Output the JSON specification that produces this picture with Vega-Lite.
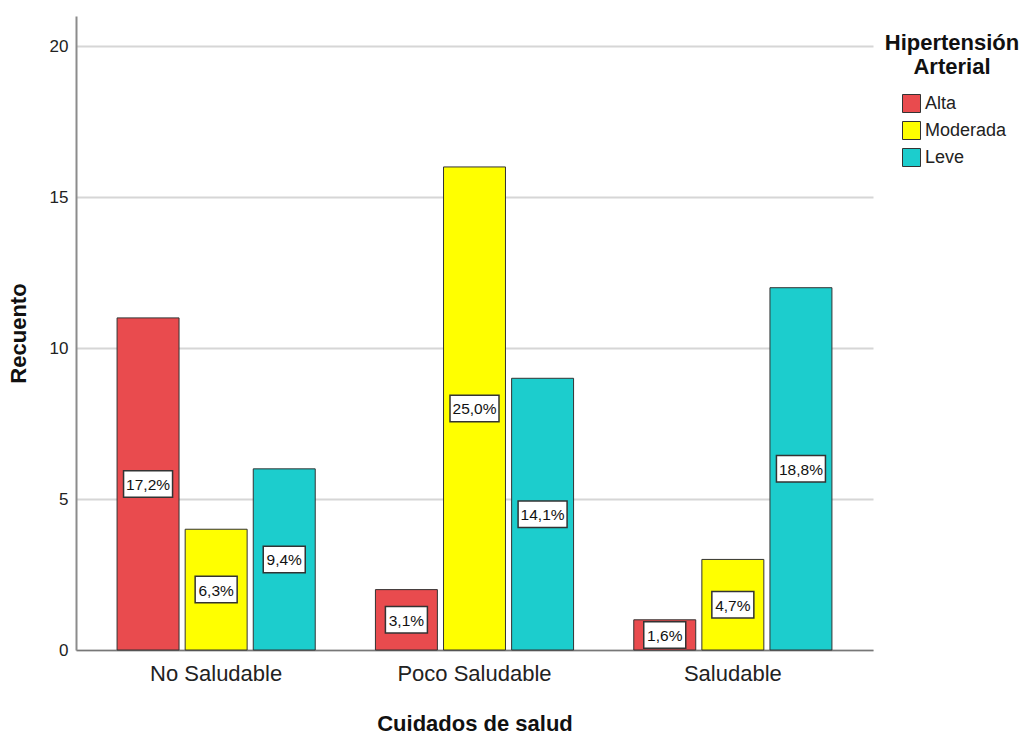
{
  "$schema": "https://vega.github.io/schema/vega-lite/v6.json",
  "width": 797,
  "height": 634,
  "autosize": {"type": "none"},
  "padding": {"left": 76, "top": 16, "right": 150, "bottom": 84},
  "background": "white",
  "config": {
    "font": "Liberation Sans",
    "view": {"stroke": null},
    "locale": {
      "number": {"decimal": ",", "thousands": ".", "grouping": [3], "currency": ["", " €"]}
    },
    "axis": {
      "ticks": false,
      "labelColor": "#222222",
      "titleColor": "#111111",
      "titleFontWeight": "bold",
      "titleFontSize": 22
    }
  },
  "data": {
    "values": [
      {"cuidado": "No Saludable", "hta": "Alta", "recuento": 11, "pct": 0.172},
      {"cuidado": "No Saludable", "hta": "Moderada", "recuento": 4, "pct": 0.063},
      {"cuidado": "No Saludable", "hta": "Leve", "recuento": 6, "pct": 0.094},
      {"cuidado": "Poco Saludable", "hta": "Alta", "recuento": 2, "pct": 0.031},
      {"cuidado": "Poco Saludable", "hta": "Moderada", "recuento": 16, "pct": 0.25},
      {"cuidado": "Poco Saludable", "hta": "Leve", "recuento": 9, "pct": 0.141},
      {"cuidado": "Saludable", "hta": "Alta", "recuento": 1, "pct": 0.016},
      {"cuidado": "Saludable", "hta": "Moderada", "recuento": 3, "pct": 0.047},
      {"cuidado": "Saludable", "hta": "Leve", "recuento": 12, "pct": 0.188}
    ]
  },
  "encoding": {
    "x": {
      "field": "cuidado",
      "type": "nominal",
      "sort": ["No Saludable", "Poco Saludable", "Saludable"],
      "title": "Cuidados de salud",
      "scale": {"paddingInner": 0.233, "paddingOuter": 0.159},
      "axis": {
        "labelAngle": 0,
        "labelFontSize": 22,
        "labelPadding": 13,
        "domainColor": "#777777",
        "domainWidth": 1.5,
        "grid": false,
        "titlePadding": 29
      }
    },
    "xOffset": {
      "field": "hta",
      "type": "nominal",
      "sort": ["Alta", "Moderada", "Leve"],
      "scale": {"paddingInner": 0.09, "paddingOuter": 0}
    }
  },
  "layer": [
    {
      "mark": {"type": "bar", "stroke": "#333333", "strokeWidth": 1},
      "encoding": {
        "y": {
          "field": "recuento",
          "type": "quantitative",
          "title": "Recuento",
          "scale": {"domain": [0, 21], "nice": false},
          "axis": {
            "values": [0, 5, 10, 15, 20],
            "labelFontSize": 17,
            "labelPadding": 8,
            "domainColor": "#8c8c8c",
            "domainWidth": 2,
            "grid": true,
            "gridColor": "#d6d6d6",
            "gridWidth": 2,
            "titlePadding": 19
          }
        },
        "color": {
          "field": "hta",
          "type": "nominal",
          "sort": ["Alta", "Moderada", "Leve"],
          "scale": {
            "domain": ["Alta", "Moderada", "Leve"],
            "range": ["#E94B4E", "#FFFF00", "#1CCDCD"]
          },
          "legend": {
            "title": ["Hipertensión", "Arterial"],
            "orient": "none",
            "legendX": 809,
            "legendY": 17,
            "padding": 0,
            "titleFontSize": 22,
            "titleFontWeight": "bold",
            "titleColor": "#111111",
            "titleAnchor": "middle",
            "titleAlign": "center",
            "titleLineHeight": 24,
            "titlePadding": 15,
            "labelFontSize": 18,
            "labelColor": "#222222",
            "labelOffset": 4,
            "symbolType": "square",
            "symbolSize": 324,
            "symbolStrokeColor": "#333333",
            "symbolStrokeWidth": 1,
            "symbolOpacity": 1,
            "symbolOffset": 5,
            "rowPadding": 4
          }
        }
      }
    },
    {
      "mark": {
        "type": "point",
        "filled": true,
        "fill": "white",
        "stroke": "#333333",
        "strokeWidth": 1.5,
        "opacity": 1,
        "size": 10000
      },
      "encoding": {
        "y": {
          "field": "recuento",
          "type": "quantitative",
          "scale": {"domain": [0, 42], "nice": false},
          "axis": null
        },
        "shape": {
          "condition": {"test": "datum.pct >= 0.1", "value": "M-0.49,-0.265H0.49V0.265H-0.49Z"},
          "value": "M-0.42,-0.265H0.42V0.265H-0.42Z"
        }
      }
    },
    {
      "mark": {
        "type": "text",
        "fontSize": 15.5,
        "color": "#111111",
        "align": "center",
        "baseline": "middle",
        "dy": 1
      },
      "encoding": {
        "y": {
          "field": "recuento",
          "type": "quantitative",
          "scale": {"domain": [0, 42], "nice": false},
          "axis": null
        },
        "text": {"field": "pct", "type": "quantitative", "format": ".1%"}
      }
    }
  ],
  "resolve": {"scale": {"y": "independent"}}
}
